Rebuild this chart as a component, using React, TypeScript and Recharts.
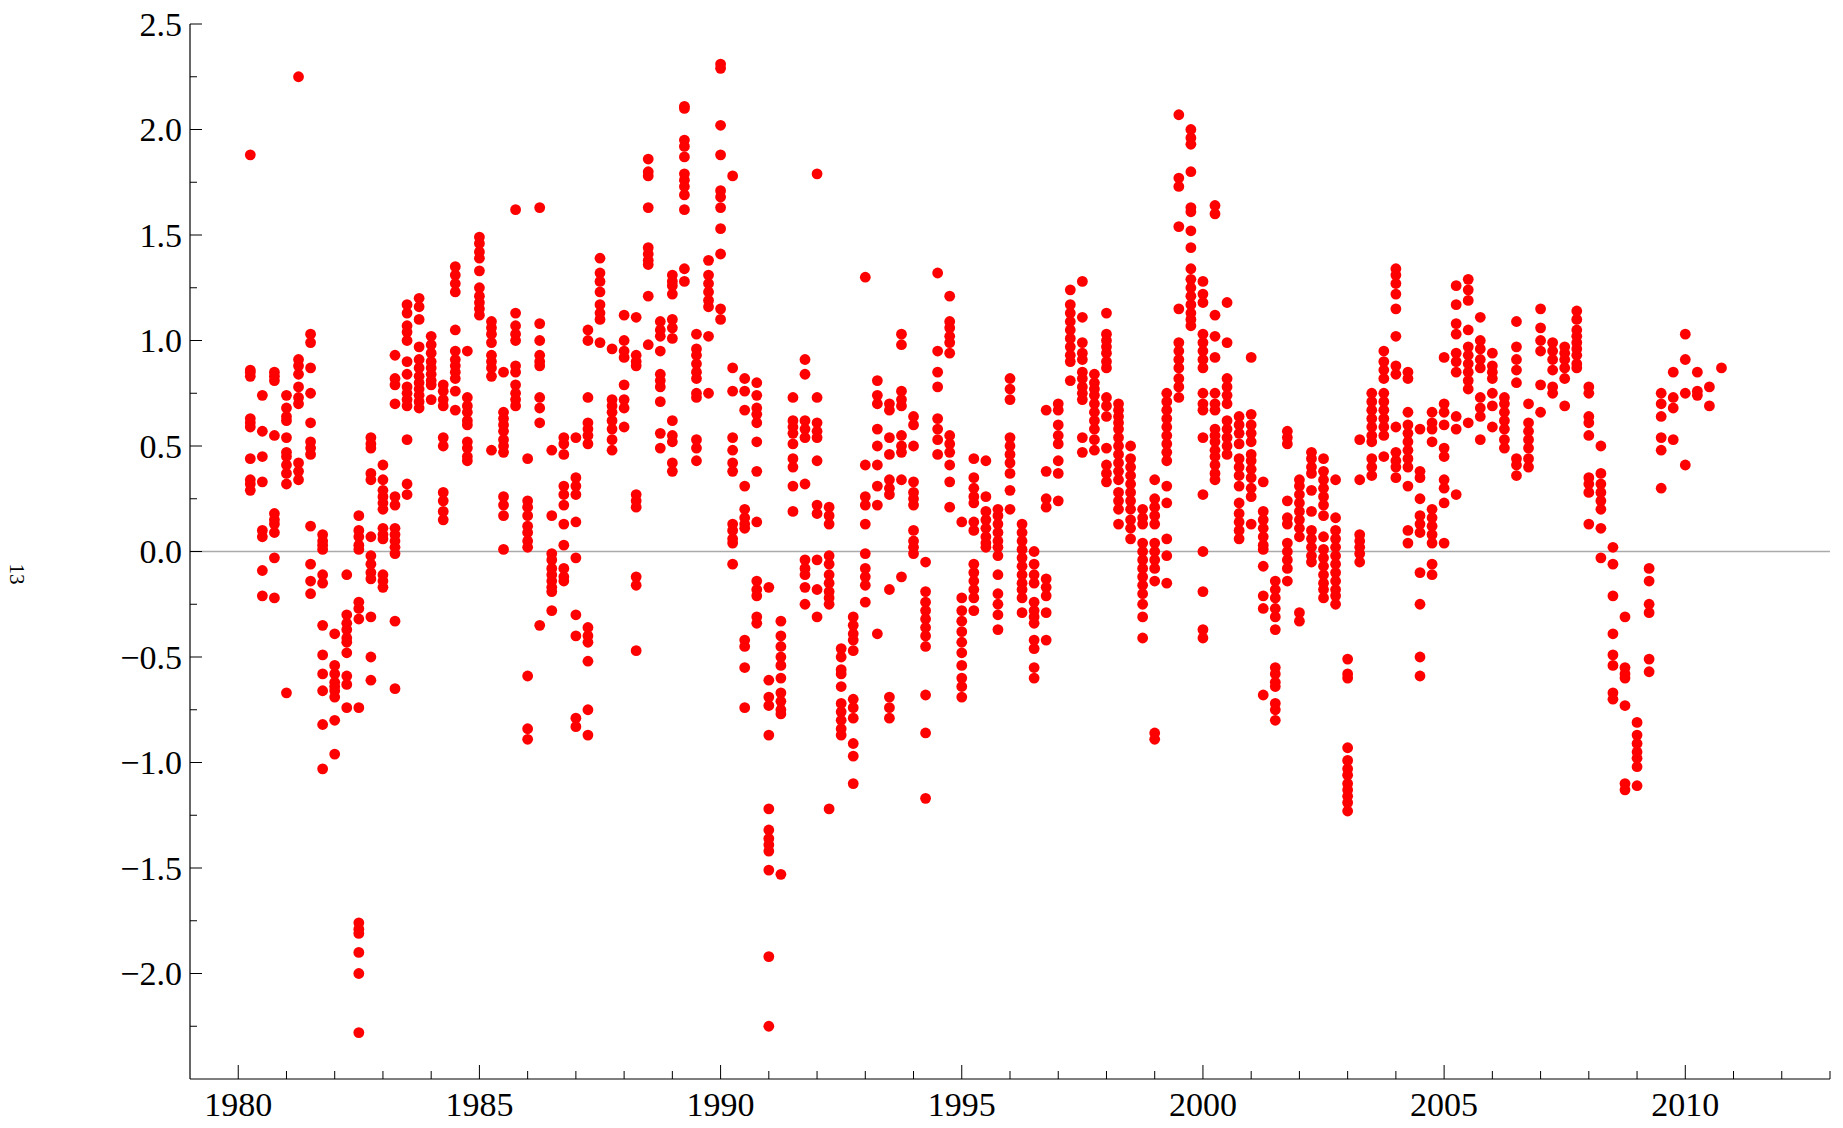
import React from 'react';
import { ScatterChart, Scatter, XAxis, YAxis, ReferenceLine } from 'recharts';

// quarterly columns: [time, values in that quarter]
const quarters1980s: [number, number[]][] = [
  [1980.25, [1.88, 0.86, 0.85, 0.83, 0.63, 0.61, 0.59, 0.44, 0.34, 0.32, 0.29]],
  [1980.5, [0.74, 0.57, 0.45, 0.33, 0.1, 0.07, -0.09, -0.21]],
  [1980.75, [0.85, 0.83, 0.81, 0.55, 0.18, 0.15, 0.13, 0.09, -0.03, -0.22]],
  [1981.0, [0.74, 0.68, 0.64, 0.62, 0.54, 0.47, 0.45, 0.41, 0.37, 0.32, -0.67]],
  [1981.25, [2.25, 0.91, 0.88, 0.84, 0.78, 0.73, 0.7, 0.42, 0.38, 0.34]],
  [1981.5, [1.03, 0.99, 0.87, 0.75, 0.61, 0.52, 0.49, 0.46, 0.12, -0.06, -0.14, -0.2]],
  [1981.75, [0.08, 0.05, 0.03, 0.01, -0.11, -0.15, -0.35, -0.49, -0.58, -0.66, -0.82, -1.03]],
  [1982.0, [-0.39, -0.54, -0.58, -0.62, -0.64, -0.66, -0.69, -0.8, -0.96]],
  [1982.25, [-0.11, -0.3, -0.34, -0.37, -0.41, -0.43, -0.48, -0.59, -0.63, -0.74]],
  [1982.5, [0.17, 0.1, 0.07, 0.03, 0.01, -0.24, -0.27, -0.32, -0.74, -1.76, -1.79, -1.81, -1.9, -2.0, -2.28]],
  [1982.75, [0.54, 0.51, 0.49, 0.37, 0.34, 0.07, -0.02, -0.06, -0.1, -0.13, -0.31, -0.5, -0.61]],
  [1983.0, [0.41, 0.34, 0.29, 0.26, 0.23, 0.2, 0.11, 0.08, 0.06, -0.11, -0.14, -0.17]],
  [1983.25, [0.93, 0.82, 0.79, 0.7, 0.26, 0.22, 0.11, 0.08, 0.05, 0.02, -0.01, -0.33, -0.65]],
  [1983.5, [1.17, 1.13, 1.07, 1.04, 1.0, 0.9, 0.84, 0.78, 0.75, 0.72, 0.69, 0.53, 0.32, 0.27]],
  [1983.75, [1.2, 1.16, 1.1, 0.97, 0.91, 0.87, 0.83, 0.8, 0.77, 0.74, 0.71, 0.68]],
  [1984.0, [1.02, 0.98, 0.94, 0.9, 0.87, 0.84, 0.81, 0.79, 0.72]],
  [1984.25, [0.79, 0.76, 0.72, 0.69, 0.54, 0.5, 0.28, 0.24, 0.19, 0.15]],
  [1984.5, [1.35, 1.31, 1.27, 1.23, 1.05, 0.95, 0.91, 0.88, 0.85, 0.82, 0.76, 0.67]],
  [1984.75, [0.95, 0.73, 0.69, 0.66, 0.62, 0.6, 0.52, 0.49, 0.45, 0.43]],
  [1985.0, [1.49, 1.46, 1.42, 1.39, 1.33, 1.25, 1.21, 1.18, 1.15, 1.12]],
  [1985.25, [1.09, 1.06, 1.03, 0.99, 0.93, 0.9, 0.87, 0.83, 0.48]],
  [1985.5, [0.85, 0.66, 0.63, 0.6, 0.57, 0.53, 0.5, 0.47, 0.26, 0.22, 0.17, 0.01]],
  [1985.75, [1.62, 1.13, 1.07, 1.03, 1.0, 0.88, 0.85, 0.79, 0.75, 0.72, 0.69]],
  [1986.0, [0.44, 0.24, 0.21, 0.17, 0.12, 0.09, 0.05, 0.02, -0.59, -0.84, -0.89]],
  [1986.25, [1.63, 1.08, 1.0, 0.93, 0.9, 0.88, 0.73, 0.68, 0.61, -0.35]],
  [1986.5, [0.48, 0.17, -0.01, -0.04, -0.08, -0.11, -0.14, -0.17, -0.19, -0.28]],
  [1986.75, [0.54, 0.51, 0.46, 0.31, 0.27, 0.22, 0.13, 0.03, -0.08, -0.12, -0.14]],
  [1987.0, [0.54, 0.35, 0.31, 0.27, 0.14, -0.03, -0.3, -0.4, -0.79, -0.83]],
  [1987.25, [1.05, 1.0, 0.73, 0.61, 0.58, 0.55, 0.51, -0.36, -0.4, -0.43, -0.52, -0.75, -0.87]],
  [1987.5, [1.39, 1.32, 1.28, 1.23, 1.17, 1.13, 1.1, 0.99]],
  [1987.75, [0.96, 0.72, 0.69, 0.66, 0.62, 0.58, 0.53, 0.48]],
  [1988.0, [1.12, 1.0, 0.95, 0.92, 0.79, 0.72, 0.68, 0.59]],
  [1988.25, [1.11, 0.93, 0.9, 0.88, 0.27, 0.24, 0.21, -0.12, -0.16, -0.47]],
  [1988.5, [1.86, 1.8, 1.78, 1.63, 1.44, 1.41, 1.38, 1.36, 1.21, 0.98]],
  [1988.75, [1.09, 1.05, 1.02, 0.95, 0.84, 0.81, 0.78, 0.71, 0.56, 0.49]],
  [1989.0, [1.31, 1.28, 1.26, 1.22, 1.1, 1.06, 1.01, 0.62, 0.55, 0.52, 0.42, 0.38]],
  [1989.25, [2.11, 2.1, 1.95, 1.92, 1.87, 1.79, 1.76, 1.73, 1.69, 1.62, 1.34, 1.28]],
  [1989.5, [1.03, 0.96, 0.93, 0.89, 0.85, 0.82, 0.75, 0.73, 0.53, 0.49, 0.43]],
  [1989.75, [1.38, 1.31, 1.27, 1.23, 1.19, 1.16, 1.02, 0.75]],
];

const quarters1990s: [number, number[]][] = [
  [1990.0, [2.31, 2.29, 2.02, 1.88, 1.71, 1.68, 1.63, 1.53, 1.41, 1.15, 1.1]],
  [1990.25, [1.78, 0.87, 0.76, 0.54, 0.48, 0.42, 0.38, 0.13, 0.1, 0.06, 0.04, -0.06]],
  [1990.5, [0.82, 0.76, 0.67, 0.31, 0.2, 0.16, 0.13, 0.11, -0.42, -0.45, -0.55, -0.74]],
  [1990.75, [0.8, 0.74, 0.68, 0.65, 0.61, 0.52, 0.38, 0.14, -0.14, -0.18, -0.21, -0.31, -0.34]],
  [1991.0, [-0.17, -0.61, -0.69, -0.73, -0.87, -1.22, -1.32, -1.36, -1.39, -1.42, -1.51, -1.92, -2.25]],
  [1991.25, [-0.33, -0.4, -0.45, -0.5, -0.54, -0.6, -0.67, -0.71, -0.75, -0.77, -1.53]],
  [1991.5, [0.73, 0.62, 0.59, 0.56, 0.51, 0.44, 0.4, 0.31, 0.19]],
  [1991.75, [0.91, 0.84, 0.62, 0.58, 0.54, 0.32, -0.04, -0.08, -0.11, -0.17, -0.25]],
  [1992.0, [1.79, 0.73, 0.61, 0.57, 0.54, 0.43, 0.22, 0.18, -0.04, -0.18, -0.31]],
  [1992.25, [0.21, 0.17, 0.13, -0.02, -0.06, -0.11, -0.15, -0.19, -0.22, -0.25, -1.22]],
  [1992.5, [-0.46, -0.5, -0.56, -0.58, -0.64, -0.72, -0.76, -0.8, -0.84, -0.87]],
  [1992.75, [-0.31, -0.35, -0.39, -0.42, -0.47, -0.7, -0.74, -0.79, -0.91, -0.97, -1.1]],
  [1993.0, [1.3, 0.41, 0.26, 0.22, 0.13, -0.01, -0.08, -0.12, -0.16, -0.24]],
  [1993.25, [0.81, 0.74, 0.7, 0.58, 0.5, 0.41, 0.31, 0.22, -0.39]],
  [1993.5, [0.7, 0.67, 0.54, 0.46, 0.34, 0.3, 0.27, -0.18, -0.69, -0.74, -0.79]],
  [1993.75, [1.03, 0.98, 0.76, 0.72, 0.69, 0.55, 0.5, 0.47, 0.34, -0.12]],
  [1994.0, [0.64, 0.6, 0.5, 0.33, 0.28, 0.25, 0.22, 0.1, 0.05, 0.02, -0.01]],
  [1994.25, [-0.05, -0.19, -0.24, -0.28, -0.32, -0.36, -0.4, -0.45, -0.68, -0.86, -1.17]],
  [1994.5, [1.32, 0.95, 0.85, 0.78, 0.63, 0.58, 0.53, 0.46]],
  [1994.75, [1.21, 1.09, 1.06, 1.02, 0.99, 0.94, 0.55, 0.51, 0.47, 0.41, 0.33, 0.21]],
  [1995.0, [0.14, -0.22, -0.28, -0.33, -0.38, -0.43, -0.48, -0.54, -0.6, -0.64, -0.69]],
  [1995.25, [0.44, 0.35, 0.3, 0.26, 0.23, 0.14, 0.1, -0.06, -0.1, -0.14, -0.18, -0.22, -0.28]],
  [1995.5, [0.43, 0.26, 0.19, 0.15, 0.11, 0.07, 0.04, 0.02]],
  [1995.75, [0.2, 0.17, 0.13, 0.09, 0.05, 0.02, -0.02, -0.11, -0.2, -0.25, -0.3, -0.37]],
  [1996.0, [0.82, 0.77, 0.72, 0.54, 0.5, 0.46, 0.42, 0.37, 0.29, 0.2]],
  [1996.25, [0.13, 0.09, 0.05, 0.01, -0.03, -0.07, -0.11, -0.15, -0.18, -0.22, -0.29]],
  [1996.5, [0.0, -0.06, -0.11, -0.15, -0.24, -0.28, -0.31, -0.34, -0.42, -0.46, -0.55, -0.6]],
  [1996.75, [0.67, 0.38, 0.25, 0.21, -0.13, -0.17, -0.21, -0.29, -0.42]],
  [1997.0, [0.7, 0.67, 0.6, 0.55, 0.51, 0.43, 0.37, 0.24]],
  [1997.25, [1.24, 1.17, 1.13, 1.09, 1.05, 1.01, 0.97, 0.93, 0.9, 0.81]],
  [1997.5, [1.28, 1.11, 0.99, 0.94, 0.91, 0.85, 0.82, 0.78, 0.75, 0.72, 0.54, 0.47]],
  [1997.75, [0.84, 0.8, 0.77, 0.74, 0.7, 0.66, 0.62, 0.58, 0.53, 0.48]],
  [1998.0, [1.13, 1.03, 1.0, 0.97, 0.94, 0.9, 0.87, 0.73, 0.69, 0.64, 0.49, 0.41, 0.37, 0.33]],
  [1998.25, [0.7, 0.67, 0.64, 0.61, 0.58, 0.54, 0.5, 0.46, 0.42, 0.38, 0.34, 0.28, 0.24, 0.2, 0.13]],
  [1998.5, [0.5, 0.44, 0.4, 0.36, 0.32, 0.28, 0.24, 0.2, 0.15, 0.11, 0.06]],
  [1998.75, [0.2, 0.16, 0.13, 0.04, 0.0, -0.04, -0.08, -0.12, -0.16, -0.2, -0.25, -0.31, -0.41]],
  [1999.0, [0.34, 0.25, 0.21, 0.17, 0.13, 0.04, 0.0, -0.04, -0.08, -0.14, -0.86, -0.89]],
  [1999.25, [0.75, 0.71, 0.67, 0.63, 0.59, 0.55, 0.51, 0.47, 0.43, 0.31, 0.23, 0.06, -0.02, -0.15]],
  [1999.5, [2.07, 1.77, 1.73, 1.54, 1.15, 0.99, 0.95, 0.91, 0.87, 0.82, 0.78, 0.73]],
  [1999.75, [2.0, 1.96, 1.93, 1.8, 1.63, 1.61, 1.52, 1.44, 1.34, 1.29, 1.25, 1.21, 1.17, 1.13, 1.1, 1.07]],
];

const quarters2000s: [number, number[]][] = [
  [2000.0, [1.28, 1.22, 1.18, 1.03, 0.99, 0.95, 0.91, 0.87, 0.75, 0.7, 0.67, 0.54, 0.27, 0.0, -0.19, -0.37, -0.41]],
  [2000.25, [1.64, 1.6, 1.12, 1.02, 0.92, 0.75, 0.7, 0.67, 0.58, 0.55, 0.52, 0.48, 0.45, 0.41, 0.37, 0.34]],
  [2000.5, [1.18, 0.99, 0.82, 0.78, 0.74, 0.7, 0.62, 0.58, 0.54, 0.5, 0.46]],
  [2000.75, [0.64, 0.6, 0.56, 0.51, 0.44, 0.4, 0.36, 0.31, 0.23, 0.18, 0.14, 0.1, 0.06]],
  [2001.0, [0.92, 0.65, 0.6, 0.56, 0.52, 0.46, 0.43, 0.39, 0.35, 0.3, 0.26, 0.13]],
  [2001.25, [0.33, 0.19, 0.15, 0.11, 0.07, 0.03, 0.01, -0.07, -0.21, -0.27, -0.68]],
  [2001.5, [-0.14, -0.18, -0.22, -0.27, -0.31, -0.37, -0.55, -0.58, -0.62, -0.64, -0.72, -0.75, -0.8]],
  [2001.75, [0.57, 0.54, 0.51, 0.24, 0.16, 0.13, 0.04, 0.0, -0.04, -0.08, -0.14]],
  [2002.0, [0.34, 0.31, 0.27, 0.23, 0.19, 0.15, 0.11, 0.07, -0.29, -0.33]],
  [2002.25, [0.47, 0.44, 0.4, 0.37, 0.29, 0.19, 0.1, 0.06, 0.02, -0.02, -0.05]],
  [2002.5, [0.44, 0.38, 0.34, 0.3, 0.26, 0.22, 0.17, 0.07, 0.01, -0.03, -0.07, -0.11, -0.15, -0.18, -0.22]],
  [2002.75, [0.34, 0.16, 0.1, 0.06, 0.02, -0.02, -0.06, -0.1, -0.14, -0.18, -0.21, -0.25]],
  [2003.0, [-0.51, -0.58, -0.6, -0.93, -0.99, -1.03, -1.06, -1.1, -1.13, -1.16, -1.19, -1.23]],
  [2003.25, [0.53, 0.34, 0.08, 0.05, 0.02, -0.01, -0.05]],
  [2003.5, [0.75, 0.71, 0.67, 0.63, 0.59, 0.55, 0.52, 0.44, 0.4, 0.36]],
  [2003.75, [0.95, 0.9, 0.86, 0.82, 0.75, 0.71, 0.67, 0.63, 0.59, 0.55, 0.45]],
  [2004.0, [1.34, 1.31, 1.27, 1.22, 1.15, 1.02, 0.88, 0.84, 0.59, 0.47, 0.43, 0.4, 0.35]],
  [2004.25, [0.85, 0.82, 0.66, 0.6, 0.56, 0.52, 0.48, 0.44, 0.4, 0.31, 0.1, 0.04]],
  [2004.5, [0.58, 0.38, 0.35, 0.25, 0.17, 0.13, 0.09, -0.1, -0.25, -0.5, -0.59]],
  [2004.75, [0.66, 0.61, 0.58, 0.52, 0.2, 0.16, 0.12, 0.08, 0.04, -0.06, -0.11]],
  [2005.0, [0.92, 0.7, 0.66, 0.6, 0.49, 0.45, 0.34, 0.3, 0.23, 0.04]],
  [2005.25, [1.26, 1.17, 1.08, 1.03, 0.94, 0.9, 0.85, 0.64, 0.58, 0.27]],
  [2005.5, [1.29, 1.24, 1.19, 1.05, 0.97, 0.93, 0.89, 0.85, 0.81, 0.77, 0.61]],
  [2005.75, [1.11, 1.0, 0.96, 0.91, 0.87, 0.73, 0.68, 0.64, 0.53]],
  [2006.0, [0.94, 0.88, 0.85, 0.82, 0.75, 0.69, 0.59]],
  [2006.25, [0.73, 0.7, 0.66, 0.62, 0.58, 0.53, 0.49]],
  [2006.5, [1.09, 0.97, 0.91, 0.86, 0.8, 0.44, 0.41, 0.36]],
  [2006.75, [0.7, 0.61, 0.57, 0.53, 0.49, 0.44, 0.4]],
  [2007.0, [1.15, 1.06, 1.0, 0.95, 0.79, 0.66]],
  [2007.25, [0.99, 0.95, 0.91, 0.86, 0.78, 0.75]],
  [2007.5, [0.97, 0.94, 0.91, 0.87, 0.82, 0.69]],
  [2007.75, [1.14, 1.1, 1.05, 1.02, 0.99, 0.96, 0.93, 0.89, 0.87]],
  [2008.0, [0.78, 0.75, 0.64, 0.61, 0.55, 0.35, 0.32, 0.28, 0.13]],
  [2008.25, [0.5, 0.37, 0.32, 0.28, 0.24, 0.2, 0.11, -0.03]],
  [2008.5, [0.02, -0.06, -0.21, -0.39, -0.49, -0.54, -0.67, -0.7]],
  [2008.75, [-0.31, -0.55, -0.58, -0.6, -0.73, -1.1, -1.13]],
  [2009.0, [-0.81, -0.87, -0.91, -0.95, -0.98, -1.02, -1.11]],
  [2009.25, [-0.08, -0.14, -0.25, -0.29, -0.51, -0.57]],
  [2009.5, [0.75, 0.7, 0.64, 0.54, 0.48, 0.3]],
  [2009.75, [0.85, 0.73, 0.68, 0.53]],
  [2010.0, [1.03, 0.91, 0.75, 0.41]],
  [2010.25, [0.85, 0.76, 0.74]],
  [2010.5, [0.78, 0.69]],
  [2010.75, [0.87]],
];

const yMajorTicks = [-2, -1.5, -1, -0.5, 0, 0.5, 1, 1.5, 2, 2.5];
const yMinorTicks = [-2.25, -1.75, -1.25, -0.75, -0.25, 0.25, 0.75, 1.25, 1.75, 2.25];
const xMajorTicks = [1980, 1985, 1990, 1995, 2000, 2005, 2010];
const xMinorTicks = [
  1981, 1982, 1983, 1984, 1986, 1987, 1988, 1989, 1991, 1992, 1993, 1994, 1996, 1997, 1998, 1999,
  2001, 2002, 2003, 2004, 2006, 2007, 2008, 2009, 2011, 2012, 2013,
];
const yAxisLabel = '13';

const points = [...quarters1980s, ...quarters1990s, ...quarters2000s].flatMap(([t, vals]) =>
  vals.map((v) => ({ t, v }))
);

const FONT = '"Liberation Serif", "Times New Roman", serif';

const fmtY = (v: number) => v.toFixed(1).replace('-', '\u2212');

const YTick = (props: any) => {
  const { x, y, payload } = props;
  const major = yMajorTicks.includes(payload.value);
  return (
    <g>
      <line x1={x} x2={x + (major ? 12 : 7)} y1={y} y2={y} stroke="#000" strokeWidth={1} />
      {major && (
        <text x={x - 8} y={y} dy={11.5} textAnchor="end" fontFamily={FONT} fontSize={34} fill="#000">
          {fmtY(payload.value)}
        </text>
      )}
    </g>
  );
};

const XTick = (props: any) => {
  const { x, y, payload } = props;
  const major = xMajorTicks.includes(payload.value);
  return (
    <g>
      <line x1={x} x2={x} y1={y} y2={y - (major ? 14 : 8)} stroke="#000" strokeWidth={1} />
      {major && (
        <text x={x} y={y + 37} textAnchor="middle" fontFamily={FONT} fontSize={34} fill="#000">
          {payload.value}
        </text>
      )}
    </g>
  );
};

const Dot = (props: any) => <circle cx={props.cx} cy={props.cy} r={5.4} fill="#ff0000" />;

export default function App() {
  return (
    <div style={{ position: 'absolute', left: 0, top: 0, width: 1843, height: 1128, background: '#fff' }}>
      <ScatterChart width={1843} height={1128} margin={{ top: 24, right: 13, bottom: 0, left: 0 }}>
        <XAxis
          dataKey="t"
          type="number"
          domain={[1979, 2013]}
          allowDataOverflow
          ticks={[...xMajorTicks, ...xMinorTicks]}
          interval={0}
          tickSize={0}
          tickMargin={0}
          tick={<XTick />}
          height={49}
          axisLine={{ stroke: '#000', strokeWidth: 1.2 }}
        />
        <YAxis
          dataKey="v"
          type="number"
          domain={[-2.5, 2.5]}
          allowDataOverflow
          ticks={[...yMajorTicks, ...yMinorTicks]}
          interval={0}
          tickSize={0}
          tickMargin={0}
          tick={<YTick />}
          width={190}
          axisLine={{ stroke: '#000', strokeWidth: 1.2 }}
          label={{
            content: () => (
              <text
                x={17}
                y={574}
                transform="rotate(90 17 574)"
                textAnchor="middle"
                dominantBaseline="central"
                fontFamily={FONT}
                fontSize={21}
                fill="#000"
              >
                {yAxisLabel}
              </text>
            ),
          }}
        />
        <ReferenceLine y={0} stroke="#aaaaaa" strokeWidth={1.5} />
        <Scatter data={points} shape={<Dot />} isAnimationActive={false} />
      </ScatterChart>
    </div>
  );
}
